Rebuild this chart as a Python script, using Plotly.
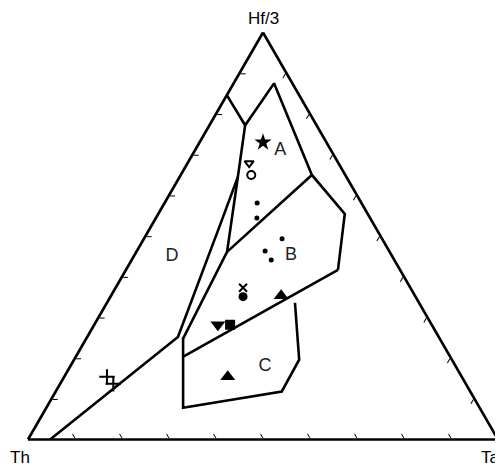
import plotly.graph_objects as go

# Field boundary polylines (a = Hf/3, b = Th, c = Ta), in percent
bound_D = {"a": [0.0, 25.2, 53.9, 64.5, 77.2],
           "b": [95.3, 55.5, 31.8, 23.1, 15.2],
           "c": [4.7, 19.3, 14.3, 12.4, 7.6]}
bound_AB_outer = {"a": [84.6, 77.2, 87.5, 65.0, 55.4, 41.7],
                  "b": [15.4, 15.2, 3.9, 7.1, 4.9, 13.2],
                  "c": [0.0, 7.6, 8.6, 27.9, 39.7, 45.1]}
bound_C_outer = {"a": [64.5, 46.1, 24.8, 7.8, 11.8, 19.6, 33.6],
                 "b": [23.1, 34.6, 54.6, 63.1, 40.1, 32.5, 26.4],
                 "c": [12.4, 19.3, 20.6, 29.1, 48.1, 47.9, 40.0]}
bound_AB = {"a": [65.0, 46.1], "b": [7.1, 34.6], "c": [27.9, 19.3]}
bound_BC = {"a": [41.7, 20.3], "b": [13.2, 56.9], "c": [45.1, 22.8]}

# Sample points
star = {"a": [73.0], "b": [13.5], "c": [13.5]}
half_circle = {"a": [67.9], "b": [19.0], "c": [13.1]}
open_circle = {"a": [65.0], "b": [20.0], "c": [15.0]}
dots = {"a": [58.1, 54.4, 49.3, 46.3, 44.1],
        "b": [22.2, 24.1, 21.3, 26.4, 26.2],
        "c": [19.7, 21.5, 29.4, 27.3, 29.7]}
xmark = {"a": [37.3], "b": [35.6], "c": [27.1]}
filled_circle = {"a": [35.1], "b": [36.7], "c": [28.2]}
tri_up = {"a": [35.3, 15.4], "b": [28.5, 49.8], "c": [36.2, 34.8]}
tri_down = {"a": [28.2], "b": [45.5], "c": [26.3]}
square = {"a": [28.2], "b": [42.9], "c": [28.9]}
crosses = {"a": [15.4, 13.7], "b": [75.5, 75.0], "c": [9.1, 11.3]}

# Field labels
field_names = ["A", "B", "C", "D"]
field_a = [71.1, 45.3, 17.9, 44.9]
field_b = [10.8, 21.4, 40.6, 46.9]
field_c = [18.1, 33.3, 41.5, 8.2]

axis_titles = ["Hf/3", "Th", "Ta"]

fig = go.Figure()
for bd in [bound_D, bound_AB_outer, bound_C_outer, bound_AB, bound_BC]:
    fig.add_trace(go.Scatterternary(a=bd["a"], b=bd["b"], c=bd["c"], mode="lines",
                                    line=dict(color="black", width=2.6),
                                    showlegend=False, hoverinfo="skip"))

def add_pts(d, symbol, size, lw=0):
    fig.add_trace(go.Scatterternary(a=d["a"], b=d["b"], c=d["c"], mode="markers",
                                    marker=dict(symbol=symbol, size=size, color="black",
                                                line=dict(color="black", width=lw)),
                                    showlegend=False))

add_pts(star, "star", 13)
add_pts(half_circle, "triangle-down-open", 8, 2)
add_pts(open_circle, "circle-open", 8, 2)
add_pts(dots, "circle", 5)
add_pts(xmark, "x-thin-open", 8, 2)
add_pts(filled_circle, "circle", 9)
add_pts(tri_up, "triangle-up", 13)
add_pts(tri_down, "triangle-down", 13)
add_pts(square, "square", 10)
add_pts(crosses, "cross-thin-open", 11, 2)

fig.add_trace(go.Scatterternary(a=field_a, b=field_b, c=field_c, mode="text",
                                text=field_names,
                                textfont=dict(family="Liberation Sans, Arial", size=18, color="#222"),
                                showlegend=False))

axis_common = dict(showticklabels=False, ticks="inside", ticklen=5, tickwidth=1,
                   tickcolor="black", dtick=10, showgrid=False,
                   linecolor="black", linewidth=2.6, min=0,
                   title=dict(text=""))

fig.update_layout(
    width=503, height=468,
    margin=dict(l=20, r=13, t=24, b=36, autoexpand=False),
    paper_bgcolor="white",
    ternary=dict(sum=100, bgcolor="white",
                 aaxis=dict(**axis_common),
                 baxis=dict(**axis_common),
                 caxis=dict(**axis_common)),
    font=dict(family="Liberation Sans, Arial", color="black"),
    annotations=[
        dict(text=axis_titles[0], x=0.5, y=1.034, xref="paper", yref="paper",
             showarrow=False, xanchor="center", yanchor="middle", font=dict(size=17)),
        dict(text=axis_titles[1], x=-0.0415, y=-0.042, xref="paper", yref="paper",
             showarrow=False, xanchor="left", yanchor="middle", font=dict(size=17)),
        dict(text=axis_titles[2], x=0.985, y=-0.042, xref="paper", yref="paper",
             showarrow=False, xanchor="center", yanchor="middle", font=dict(size=17)),
    ],
)

fig.write_html("out.html")
